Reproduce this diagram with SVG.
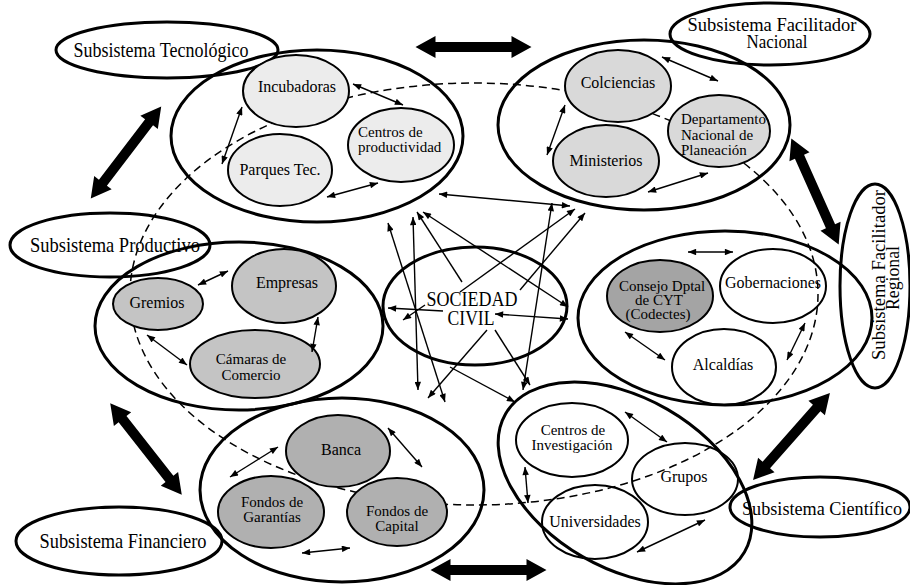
<svg xmlns="http://www.w3.org/2000/svg" xmlns:xlink="http://www.w3.org/1999/xlink" width="910" height="585" viewBox="0 0 910 585">
<style>
.grp{fill:none;stroke:#000;stroke-width:3}
.lbl{fill:none;stroke:#000;stroke-width:3}
.node{stroke:#000;stroke-width:2}
.white{fill:none}
.g1{fill:#ececec}
.g2{fill:#d9d9d9}
.g3{fill:#c4c4c4}
.g4{fill:#a4a4a4}
.g5{fill:#b0b0b0}
.t{font-family:"Liberation Serif","Times New Roman",serif;font-size:16px;text-anchor:middle;fill:#000}
.m{font-family:"Liberation Serif","Times New Roman",serif;font-size:15px;text-anchor:middle;fill:#000}
.tl{font-family:"Liberation Serif","Times New Roman",serif;font-size:15px;text-anchor:start;fill:#000}
.L{font-family:"Liberation Serif","Times New Roman",serif;font-size:21px;text-anchor:middle;fill:#000}
.L2{font-family:"Liberation Serif","Times New Roman",serif;font-size:19px;text-anchor:middle;fill:#000}
.sc{font-family:"Liberation Serif","Times New Roman",serif;font-size:20px;text-anchor:middle;fill:#000}
.dash{fill:none;stroke:#000;stroke-width:1.5;stroke-dasharray:8 5}
.c2{fill:none;stroke:#000;stroke-width:1.4;marker-start:url(#ah);marker-end:url(#ah)}
.c1{fill:none;stroke:#000;stroke-width:1.4;marker-end:url(#ah)}
.big{fill:#000}
</style>
<defs>
<marker id="ah" viewBox="0 0 10 8" refX="10" refY="4" markerWidth="9" markerHeight="6.5" orient="auto-start-reverse" markerUnits="userSpaceOnUse">
<path d="M0,0 L10,4 L0,8 Z" fill="#000"/>
</marker>
<path id="bigarrow" d="M-58,0 L-38,-11 L-38,-5 L38,-5 L38,-11 L58,0 L38,11 L38,5 L-38,5 L-38,11 Z"/>
</defs>

<ellipse id="dashed-ring" class="dash" cx="474" cy="294" rx="344" ry="211"/>

<g id="groups">
<ellipse id="grp-tecnologico" class="grp" cx="317" cy="136" rx="146" ry="86"/>
<ellipse id="grp-nacional" class="grp" cx="644" cy="125" rx="146" ry="85"/>
<ellipse id="grp-productivo" class="grp" cx="239" cy="326" rx="144" ry="84"/>
<ellipse id="grp-regional" class="grp" cx="725" cy="318" rx="147" ry="87"/>
<ellipse id="grp-financiero" class="grp" cx="342" cy="490" rx="142" ry="92"/>
<ellipse id="grp-cientifico" class="grp" cx="625" cy="483" rx="138" ry="85" transform="rotate(30 625 483)"/>
</g>

<g id="sociedad-civil">
<ellipse class="grp" cx="475" cy="306" rx="92" ry="59"/>
<text class="sc" x="472" y="306" textLength="91" lengthAdjust="spacingAndGlyphs">SOCIEDAD</text>
<text class="sc" x="471" y="325" textLength="47" lengthAdjust="spacingAndGlyphs">CIVIL</text>
</g>

<g id="lbl-tecnologico">
<ellipse class="lbl" cx="167" cy="50" rx="111" ry="28"/>
<text class="L" x="161" y="57" textLength="175" lengthAdjust="spacingAndGlyphs">Subsistema Tecnológico</text>
</g>
<g id="lbl-nacional">
<ellipse class="lbl" cx="770" cy="34" rx="100" ry="31"/>
<text class="L2" x="772" y="31" textLength="169" lengthAdjust="spacingAndGlyphs">Subsistema Facilitador</text>
<text class="L2" x="777" y="48" textLength="61" lengthAdjust="spacingAndGlyphs">Nacional</text>
</g>
<g id="lbl-productivo">
<ellipse class="lbl" cx="110" cy="245" rx="100" ry="32"/>
<text class="L" x="115" y="252" textLength="170" lengthAdjust="spacingAndGlyphs">Subsistema Productivo</text>
</g>
<g id="lbl-regional">
<ellipse class="lbl" cx="875" cy="286" rx="35" ry="102"/>
<text class="L2" transform="translate(885 275) rotate(-90)" x="0" y="0" textLength="170" lengthAdjust="spacingAndGlyphs">Subsistema Facilitador</text>
<text class="L2" transform="translate(899 278) rotate(-90)" x="0" y="0" textLength="64" lengthAdjust="spacingAndGlyphs">Regional</text>
</g>
<g id="lbl-cientifico">
<ellipse class="lbl" cx="820" cy="507" rx="90" ry="30"/>
<text class="L2" x="822" y="515" textLength="160" lengthAdjust="spacingAndGlyphs">Subsistema Científico</text>
</g>
<g id="lbl-financiero">
<ellipse class="lbl" cx="119" cy="541" rx="103" ry="34"/>
<text class="L" x="123" y="548" textLength="167" lengthAdjust="spacingAndGlyphs">Subsistema Financiero</text>
</g>

<g id="n-incubadoras">
<ellipse class="node g1" cx="296" cy="91" rx="53" ry="36"/>
<text class="t" x="297" y="92">Incubadoras</text>
</g>
<g id="n-parques">
<ellipse class="node g1" cx="280" cy="170" rx="52" ry="36"/>
<text class="t" x="280" y="175">Parques Tec.</text>
</g>
<g id="n-centros-prod">
<ellipse class="node g1" cx="401" cy="145" rx="53" ry="37"/>
<text class="tl" x="358" y="137">Centros de</text>
<text class="tl" x="358" y="152">productividad</text>
</g>

<g id="n-colciencias">
<ellipse class="node g2" cx="618" cy="86" rx="53" ry="36"/>
<text class="t" x="618" y="88">Colciencias</text>
</g>
<g id="n-ministerios">
<ellipse class="node g2" cx="606" cy="161" rx="53" ry="36"/>
<text class="t" x="606" y="166">Ministerios</text>
</g>
<g id="n-dnp">
<ellipse class="node g2" cx="719" cy="131" rx="51" ry="36"/>
<text class="tl" x="681" y="124">Departamento</text>
<text class="tl" x="681" y="140">Nacional de</text>
<text class="tl" x="681" y="155">Planeación</text>
</g>

<g id="n-empresas">
<ellipse class="node g3" cx="284" cy="286" rx="52" ry="37"/>
<text class="t" x="287" y="288">Empresas</text>
</g>
<g id="n-gremios">
<ellipse class="node g3" cx="158" cy="304" rx="45" ry="26"/>
<text class="t" x="157" y="308">Gremios</text>
</g>
<g id="n-camaras">
<ellipse class="node g3" cx="255" cy="364" rx="65" ry="34"/>
<text class="m" x="251" y="364">Cámaras de</text>
<text class="m" x="251" y="380">Comercio</text>
</g>

<g id="n-consejo">
<ellipse class="node g4" cx="660" cy="296" rx="53" ry="36"/>
<text class="m" x="662" y="291">Consejo Dptal</text>
<text class="m" x="659" y="305">de CYT</text>
<text class="m" x="658" y="319">(Codectes)</text>
</g>
<g id="n-gobernaciones">
<ellipse class="node white" cx="773" cy="286" rx="53" ry="37"/>
<text class="t" x="773" y="288">Gobernaciones</text>
</g>
<g id="n-alcaldias">
<ellipse class="node white" cx="724" cy="367" rx="52" ry="38"/>
<text class="t" x="723" y="370">Alcaldías</text>
</g>

<g id="n-banca">
<ellipse class="node g5" cx="338" cy="451" rx="52" ry="36"/>
<text class="t" x="341" y="455">Banca</text>
</g>
<g id="n-garantias">
<ellipse class="node g5" cx="271" cy="512" rx="53" ry="36"/>
<text class="m" x="272" y="507">Fondos de</text>
<text class="m" x="272" y="522">Garantías</text>
</g>
<g id="n-capital">
<ellipse class="node g5" cx="397" cy="512" rx="50" ry="34"/>
<text class="m" x="397" y="516">Fondos de</text>
<text class="m" x="397" y="531">Capital</text>
</g>

<g id="n-centros-inv">
<ellipse class="node white" cx="572" cy="440" rx="56" ry="37"/>
<text class="m" x="573" y="435">Centros de</text>
<text class="m" x="572" y="450">Investigación</text>
</g>
<g id="n-grupos">
<ellipse class="node white" cx="685" cy="479" rx="53" ry="36"/>
<text class="t" x="684" y="482">Grupos</text>
</g>
<g id="n-universidades">
<ellipse class="node white" cx="595" cy="522" rx="53" ry="37"/>
<text class="t" x="595" y="527">Universidades</text>
</g>

<g id="connectors">
<use href="#bigarrow" class="big" transform="translate(473.5 47)"/>
<use href="#bigarrow" class="big" transform="translate(488.5 570)"/>
<use href="#bigarrow" class="big" transform="translate(126 152.5) rotate(-52.6)"/>
<use href="#bigarrow" class="big" transform="translate(146 449) rotate(51.9)"/>
<use href="#bigarrow" class="big" transform="translate(815 191.5) rotate(65.9)"/>
<use href="#bigarrow" class="big" transform="translate(791.5 436.5) rotate(131.5)"/>

<line class="c2" x1="353" y1="84" x2="403" y2="105"/>
<line class="c2" x1="242" y1="107" x2="222" y2="164"/>
<line class="c2" x1="327" y1="197" x2="378" y2="183"/>

<line class="c2" x1="662" y1="57" x2="718" y2="81"/>
<line class="c2" x1="565" y1="105" x2="547" y2="155"/>
<line class="c2" x1="648" y1="192" x2="708" y2="173"/>

<line class="c2" x1="198" y1="285" x2="228" y2="271"/>
<line class="c2" x1="147" y1="335" x2="187" y2="365"/>
<line class="c2" x1="318" y1="317" x2="312" y2="352"/>

<line class="c2" x1="688" y1="252" x2="733" y2="252"/>
<line class="c2" x1="625" y1="332" x2="665" y2="360"/>
<line class="c2" x1="805" y1="323" x2="787" y2="360"/>

<line class="c2" x1="388" y1="428" x2="422" y2="467"/>
<line class="c2" x1="278" y1="447" x2="230" y2="477"/>
<line class="c2" x1="302" y1="553" x2="350" y2="548"/>

<line class="c2" x1="625" y1="412" x2="667" y2="442"/>
<line class="c2" x1="525" y1="467" x2="528" y2="503"/>
<line class="c2" x1="705" y1="520" x2="637" y2="552"/>

<line class="c2" x1="439" y1="194" x2="570" y2="206"/>
<line class="c2" x1="552" y1="203" x2="523" y2="390"/>
<line class="c2" x1="413" y1="217" x2="418" y2="390"/>
<line class="c2" x1="388" y1="223" x2="445" y2="402"/>
<line class="c2" x1="423" y1="212" x2="568" y2="307"/>
<line class="c2" x1="495" y1="314" x2="568" y2="319"/>
<line class="c1" x1="462" y1="282" x2="417" y2="212"/>
<line class="c1" x1="460" y1="292" x2="575" y2="209"/>
<line class="c1" x1="520" y1="290" x2="585" y2="213"/>
<line class="c1" x1="443" y1="311" x2="388" y2="308"/>
<line class="c1" x1="425" y1="305" x2="403" y2="320"/>
<line class="c1" x1="487" y1="330" x2="428" y2="398"/>
<line class="c1" x1="495" y1="330" x2="530" y2="385"/>
<line class="c1" x1="450" y1="367" x2="515" y2="402"/>
</g>
</svg>
